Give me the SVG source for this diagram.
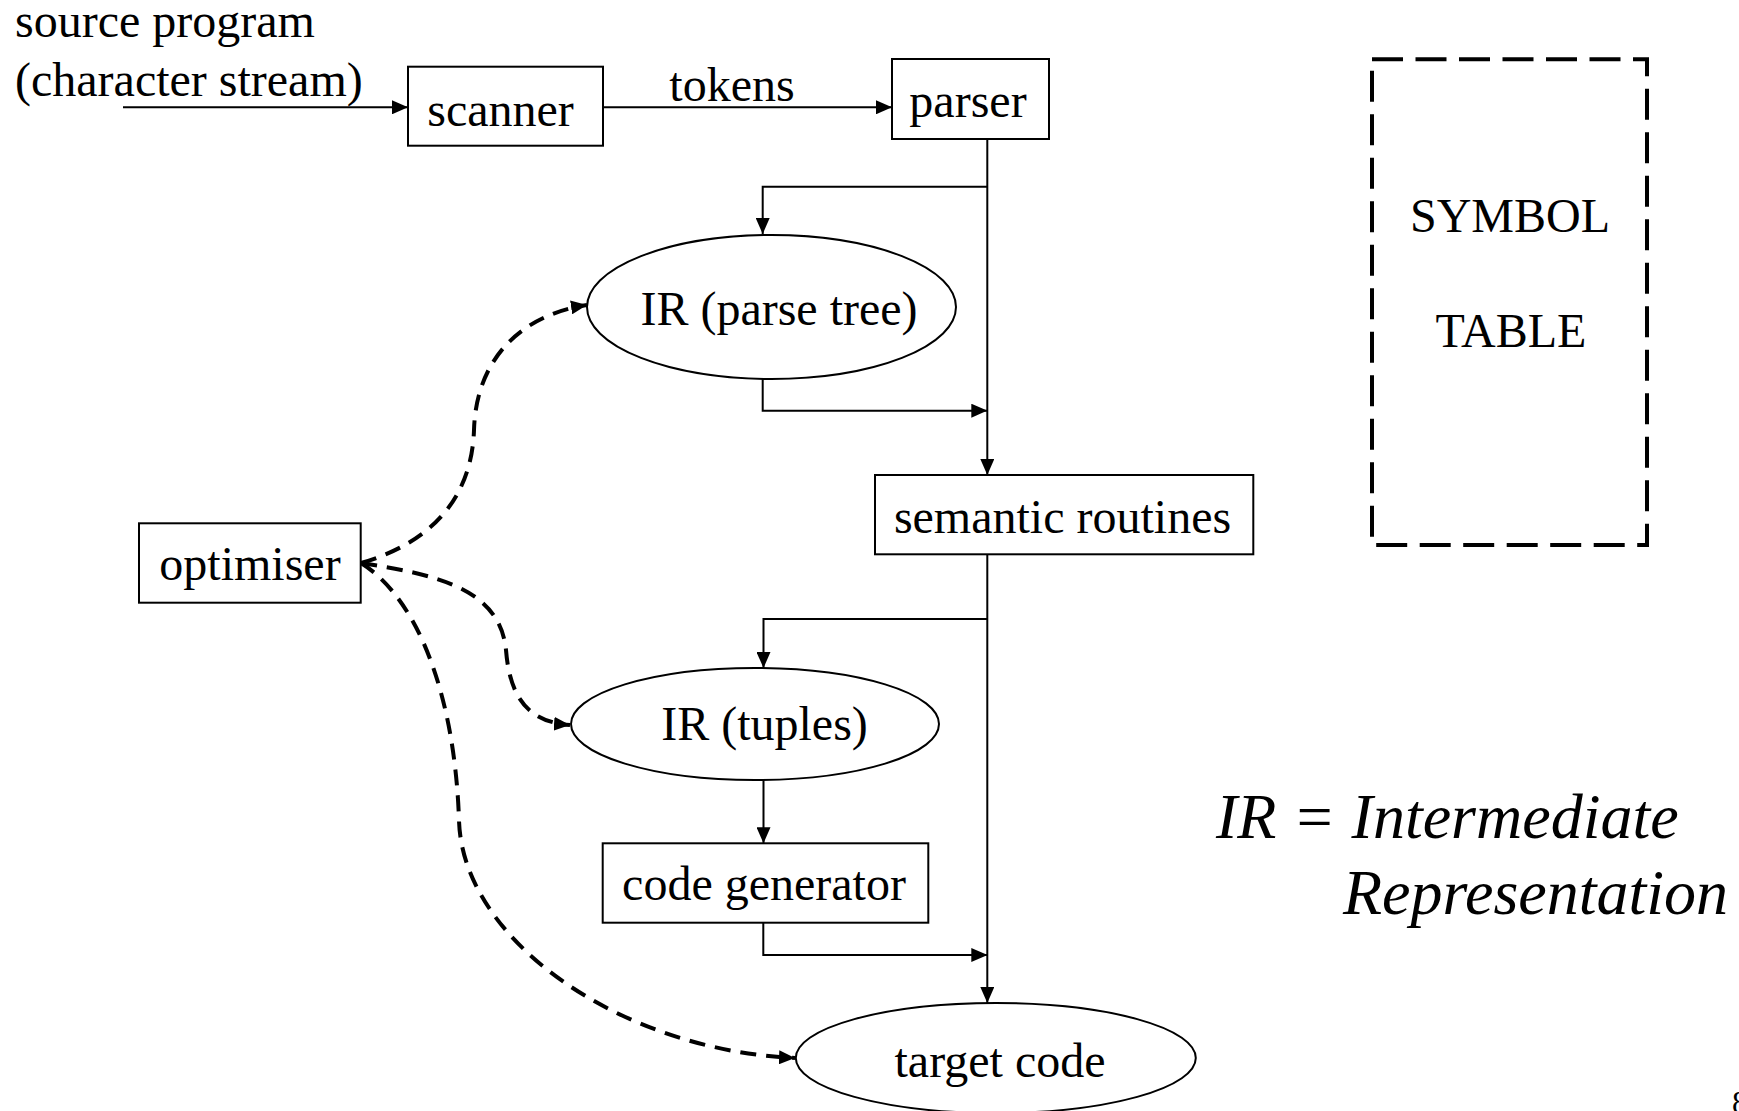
<svg xmlns="http://www.w3.org/2000/svg" width="1739" height="1111" viewBox="0 0 1739 1111">
<defs>
<style>
.t{font-family:"Liberation Serif","Times New Roman",serif;font-size:48px;fill:#000}
.c{text-anchor:middle}
.i{font-family:"Liberation Serif","Times New Roman",serif;font-size:64px;font-style:italic;fill:#000}
.box{fill:#fff;stroke:#000;stroke-width:2}
.ln{fill:none;stroke:#000;stroke-width:2}
.dl{fill:none;stroke:#000;stroke-width:4;stroke-dasharray:16 10}
.sym{fill:none;stroke:#000;stroke-width:4;stroke-dasharray:31 12.5}
</style>
<marker id="ah" markerUnits="userSpaceOnUse" markerWidth="16" markerHeight="14" viewBox="0 0 16 14" refX="16" refY="7" orient="auto">
<path d="M0,0 L16,7 L0,14 z" fill="#000"/>
</marker>
</defs>
<rect width="1739" height="1111" fill="#fff"/>

<g id="connectors">
<line class="ln" x1="123" y1="107.3" x2="408" y2="107.3" marker-end="url(#ah)"/>
<line class="ln" x1="603" y1="107.3" x2="892" y2="107.3" marker-end="url(#ah)"/>
<line class="ln" x1="987.3" y1="139" x2="987.3" y2="475" marker-end="url(#ah)"/>
<polyline class="ln" points="987.3,186.7 762.7,186.7 762.7,234" marker-end="url(#ah)"/>
<polyline class="ln" points="762.7,379 762.7,410.7 987.3,410.7" marker-end="url(#ah)"/>
<line class="ln" x1="987.3" y1="554.3" x2="987.3" y2="1003" marker-end="url(#ah)"/>
<polyline class="ln" points="987.3,619 763.5,619 763.5,668" marker-end="url(#ah)"/>
<line class="ln" x1="763.5" y1="779.5" x2="763.5" y2="843.3" marker-end="url(#ah)"/>
<polyline class="ln" points="763.3,922.7 763.3,955 987.3,955" marker-end="url(#ah)"/>
<path class="dl" d="M361,563 C440,540 472,490 474,430 C476,360 520,315 587,305" marker-end="url(#ah)"/>
<path class="dl" d="M361,563 C440,575 500,590 506,650 C510,700 530,722 570,725" marker-end="url(#ah)"/>
<path class="dl" d="M361,563 C420,600 455,700 459,820 C462,940 620,1050 795,1058" marker-end="url(#ah)"/>
</g>

<g id="source">
<text class="t" x="15" y="37">source program</text>
<text class="t" x="15" y="96">(character stream)</text>
</g>
<text class="t c" x="732" y="101">tokens</text>

<g id="scanner">
<rect class="box" x="408" y="66.7" width="195" height="79"/>
<text class="t c" x="500.5" y="126">scanner</text>
</g>

<g id="parser">
<rect class="box" x="892" y="59" width="157" height="80"/>
<text class="t c" x="968" y="117">parser</text>
</g>

<g id="ir-parse-tree">
<ellipse class="box" cx="771.5" cy="307" rx="184.5" ry="72"/>
<text class="t c" x="779" y="325">IR (parse tree)</text>
</g>

<g id="semantic-routines">
<rect class="box" x="875" y="475" width="378.3" height="79.3"/>
<text class="t c" x="1062.5" y="533">semantic routines</text>
</g>

<g id="ir-tuples">
<ellipse class="box" cx="755" cy="724" rx="184" ry="56"/>
<text class="t c" x="764.5" y="740">IR (tuples)</text>
</g>

<g id="code-generator">
<rect class="box" x="602.7" y="843.3" width="325.6" height="79.4"/>
<text class="t c" x="764" y="900">code generator</text>
</g>

<g id="target-code">
<ellipse class="box" cx="995.8" cy="1058" rx="200" ry="55"/>
<text class="t c" x="1000" y="1077">target code</text>
</g>

<g id="optimiser">
<rect class="box" x="139" y="523.3" width="221.7" height="79.4"/>
<text class="t c" x="250" y="580">optimiser</text>
</g>

<g id="symbol-table">
<path class="sym" d="M1372,59.3 L1647,59.3 L1647,545 L1372,545 Z"/>
<text class="t c" x="1510" y="232">SYMBOL</text>
<text class="t c" x="1511" y="347">TABLE</text>
</g>

<g id="legend">
<text class="i" x="1216" y="838">IR = Intermediate</text>
<text class="i" x="1343" y="914">Representation</text>
</g>
<text class="t" x="1732" y="1113" style="font-size:32px">8</text>
</svg>
